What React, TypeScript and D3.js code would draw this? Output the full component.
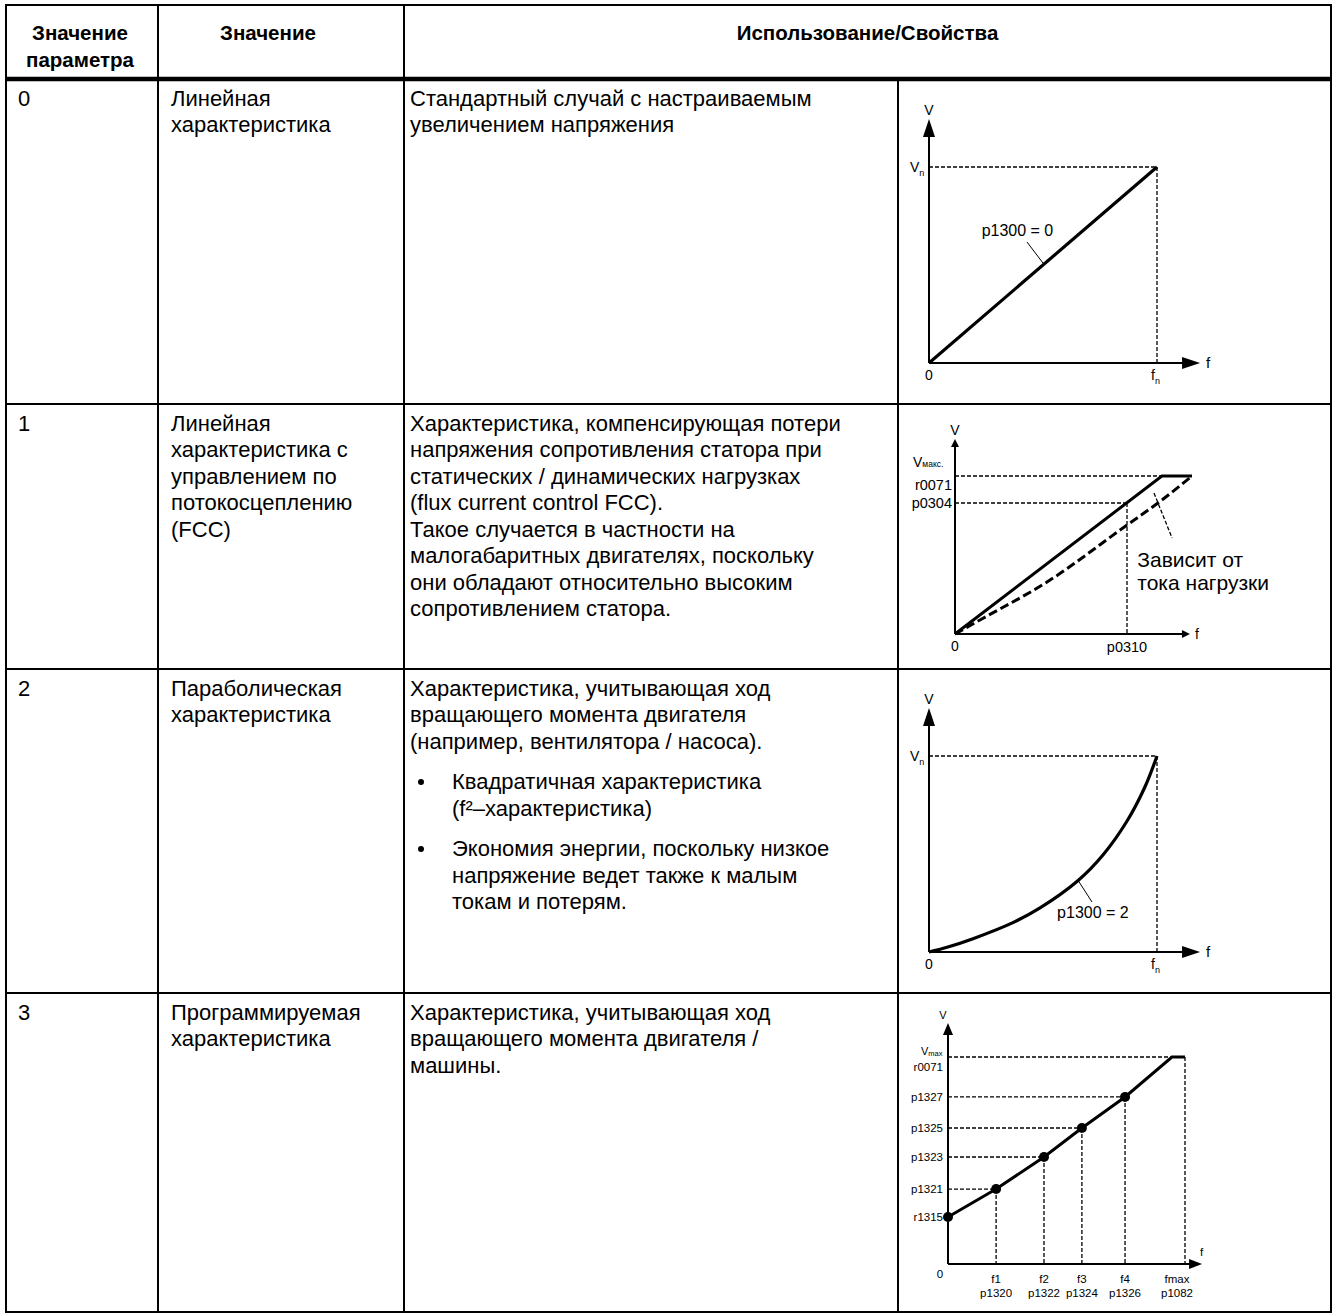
import React from 'react';
import * as d3 from 'd3';

const FONT = '"Liberation Sans", Arial, Helvetica, sans-serif';

// ---- table text ----
const headerParam = ['Значение', 'параметра'];
const headerMeaning = 'Значение';
const headerUsage = 'Использование/Свойства';

const paramValues = ['0', '1', '2', '3'];
const characteristicNames = [
  ['Линейная', 'характеристика'],
  ['Линейная', 'характеристика с', 'управлением по', 'потокосцеплению', '(FCC)'],
  ['Параболическая', 'характеристика'],
  ['Программируемая', 'характеристика'],
];
type Para = { bullet?: boolean; lines: string[] };
const descriptions: Para[][] = [
  [{ lines: ['Стандартный случай с настраиваемым', 'увеличением напряжения'] }],
  [
    {
      lines: [
        'Характеристика, компенсирующая потери',
        'напряжения сопротивления статора при',
        'статических / динамических нагрузках',
        '(flux current control FCC).',
        'Такое случается в частности на',
        'малогабаритных двигателях, поскольку',
        'они обладают относительно высоким',
        'сопротивлением статора.',
      ],
    },
  ],
  [
    { lines: ['Характеристика, учитывающая ход', 'вращающего момента двигателя', '(например, вентилятора / насоса).'] },
    { bullet: true, lines: ['Квадратичная характеристика', '(f²–характеристика)'] },
    { bullet: true, lines: ['Экономия энергии, поскольку низкое', 'напряжение ведет также к малым', 'токам и потерям.'] },
  ],
  [{ lines: ['Характеристика, учитывающая ход', 'вращающего момента двигателя /', 'машины.'] }],
];
const loadNote = ['Зависит от', 'тока нагрузки'];

// ---- chart data ----
// chart 0: linear (normalised f / V)
const linF = [0, 1];
const linV = [0, 1];
// chart 1: FCC (normalised to p0310 / p0304)
const fccF = [0, 1.203, 1.378];
const fccV = [0, 1.206, 1.206];
const fccLoadF = [0, 0.145, 0.535, 1, 1.18, 1.378];
const fccLoadV = [0, 0.107, 0.397, 0.832, 1.0, 1.206];
// chart 2: parabolic (normalised to fn / Vn)
const parF = [0, 0.079, 0.193, 0.368, 0.487, 0.654, 0.763, 0.868, 0.947, 1];
const parV = [0, 0.024, 0.068, 0.15, 0.225, 0.365, 0.495, 0.667, 0.842, 1];
// chart 3: programmable (percent of fmax / Vmax)
const progF = [0, 20.3, 40.5, 56.5, 74.7, 94.5, 100];
const progV = [22.7, 36.2, 51.7, 65.7, 80.7, 100, 100];
const progVLabels = ['r1315', 'p1321', 'p1323', 'p1325', 'p1327'];
const progFTop = ['f1', 'f2', 'f3', 'f4'];
const progFBottom = ['p1320', 'p1322', 'p1324', 'p1326'];

// ---- layout ----
const W = 1333;
const H = 1314;
const colEdges = [6, 158, 404, 898, 1331];
const rowEdges = [5, 79, 404, 669, 993, 1312];
const BODY_FS = 22;
const LH = 26.5;
const PARA_GAP = 14;

const zip = (a: number[], b: number[]) => a.map((v, i) => [v, b[i]] as [number, number]);

function arrowUp(x: number, tip: number, len: number, w: number) {
  return `M${x},${tip}L${x - w / 2},${tip + len}L${x + w / 2},${tip + len}Z`;
}
function arrowRight(tip: number, y: number, len: number, w: number) {
  return `M${tip},${y}L${tip - len},${y - w / 2}L${tip - len},${y + w / 2}Z`;
}

const dashStyle = { stroke: '#000', strokeWidth: 1.3, strokeDasharray: '4 2', fill: 'none' };

function BigAxes({ x, y, xMax, yMax }: any) {
  const ox = x(0);
  const xt = x(xMax);
  const yt = y(yMax);
  return (
    <g>
      <line x1={ox} y1={y(0)} x2={ox} y2={yt + 14} stroke="#000" strokeWidth={2} />
      <path d={arrowUp(ox, yt, 18, 12)} fill="#000" />
      <line x1={ox} y1={y(0)} x2={xt - 14} y2={y(0)} stroke="#000" strokeWidth={2} />
      <path d={arrowRight(xt, y(0), 18, 12)} fill="#000" />
    </g>
  );
}

function ChartLinear() {
  const oy = 363;
  const x = d3.scaleLinear().domain([0, 1]).range([929, 1157]);
  const y = d3.scaleLinear().domain([0, 1]).range([oy, oy - 196]);
  const line = d3.line<[number, number]>().x((d) => x(d[0])).y((d) => y(d[1]));
  return (
    <g fontFamily={FONT}>
      <line x1={x(0)} y1={y(1)} x2={x(1)} y2={y(1)} {...dashStyle} />
      <line x1={x(1)} y1={y(1)} x2={x(1)} y2={y(0)} {...dashStyle} />
      <BigAxes x={x} y={y} xMax={1.189} yMax={1.245} />
      <path d={line(zip(linF, linV)) || ''} fill="none" stroke="#000" strokeWidth={3.2} />
      <line x1={x(0.43)} y1={y(0.617)} x2={x(0.5)} y2={y(0.51)} stroke="#000" strokeWidth={1} />
      <text x={x(0.388)} y={y(0.648)} fontSize={16} textAnchor="middle">p1300 = 0</text>
      <text x={x(0)} y={y(1.265)} fontSize={14} textAnchor="middle">V</text>
      <text x={x(0) - 19} y={y(1) + 5} fontSize={14}>V<tspan fontSize={9} dy={4}>n</tspan></text>
      <text x={x(0)} y={y(0) + 17} fontSize={14} textAnchor="middle">0</text>
      <text x={x(1) - 6} y={y(0) + 17} fontSize={14}>f<tspan fontSize={9} dy={4}>n</tspan></text>
      <text x={x(1.189) + 6} y={y(0) + 5} fontSize={15}>f</text>
    </g>
  );
}

function ChartParabolic() {
  const oy = 952;
  const x = d3.scaleLinear().domain([0, 1]).range([929, 1157]);
  const y = d3.scaleLinear().domain([0, 1]).range([oy, oy - 196]);
  const line = d3.line<[number, number]>().x((d) => x(d[0])).y((d) => y(d[1])).curve(d3.curveCatmullRom.alpha(0.5));
  return (
    <g fontFamily={FONT}>
      <line x1={x(0)} y1={y(1)} x2={x(1)} y2={y(1)} {...dashStyle} />
      <line x1={x(1)} y1={y(1)} x2={x(1)} y2={y(0)} {...dashStyle} />
      <BigAxes x={x} y={y} xMax={1.189} yMax={1.245} />
      <path d={line(zip(parF, parV)) || ''} fill="none" stroke="#000" strokeWidth={3.2} />
      <line x1={x(0.654)} y1={y(0.365)} x2={x(0.715)} y2={y(0.255)} stroke="#000" strokeWidth={1} />
      <text x={x(0.719)} y={y(0.173)} fontSize={16} textAnchor="middle">p1300 = 2</text>
      <text x={x(0)} y={y(1.265)} fontSize={14} textAnchor="middle">V</text>
      <text x={x(0) - 19} y={y(1) + 5} fontSize={14}>V<tspan fontSize={9} dy={4}>n</tspan></text>
      <text x={x(0)} y={y(0) + 17} fontSize={14} textAnchor="middle">0</text>
      <text x={x(1) - 6} y={y(0) + 17} fontSize={14}>f<tspan fontSize={9} dy={4}>n</tspan></text>
      <text x={x(1.189) + 6} y={y(0) + 5} fontSize={15}>f</text>
    </g>
  );
}

function ChartFCC() {
  const x = d3.scaleLinear().domain([0, 1]).range([955, 1127]);
  const y = d3.scaleLinear().domain([0, 1]).range([634, 503]);
  const line = d3.line<[number, number]>().x((d) => x(d[0])).y((d) => y(d[1]));
  const curve = d3.line<[number, number]>().x((d) => x(d[0])).y((d) => y(d[1])).curve(d3.curveMonotoneX);
  const vmax = fccV[1];
  const xt = x(1.366);
  const yt = y(1.489);
  return (
    <g fontFamily={FONT}>
      <line x1={x(0)} y1={y(vmax)} x2={x(fccF[1])} y2={y(vmax)} {...dashStyle} />
      <line x1={x(0)} y1={y(1)} x2={x(1)} y2={y(1)} {...dashStyle} />
      <line x1={x(1)} y1={y(1)} x2={x(1)} y2={y(0)} {...dashStyle} />
      <line x1={x(0)} y1={y(0)} x2={x(0)} y2={yt + 6} stroke="#000" strokeWidth={2} />
      <path d={arrowUp(x(0), yt, 8, 8)} fill="#000" />
      <line x1={x(0)} y1={y(0)} x2={xt - 6} y2={y(0)} stroke="#000" strokeWidth={2} />
      <path d={arrowRight(xt, y(0), 8, 8)} fill="#000" />
      <path d={curve(zip(fccLoadF, fccLoadV)) || ''} fill="none" stroke="#000" strokeWidth={3} strokeDasharray="9 4" />
      <path d={line(zip(fccF, fccV)) || ''} fill="none" stroke="#000" strokeWidth={3} />
      <line x1={x(1.157)} y1={y(1.076)} x2={x(1.262)} y2={y(0.733)} stroke="#000" strokeWidth={1.3} strokeDasharray="4 2" />
      <text x={x(1.06)} y={y(0.733) + 29} fontSize={21}>{loadNote[0]}</text>
      <text x={x(1.06)} y={y(0.733) + 52} fontSize={21}>{loadNote[1]}</text>
      <text x={x(0)} y={yt - 4} fontSize={14} textAnchor="middle">V</text>
      <text x={x(0) - 42} y={y(vmax) - 9}>
        <tspan fontSize={14}>V</tspan>
        <tspan fontSize={8.5}>макс.</tspan>
      </text>
      <text x={x(0) - 3} y={y(vmax) + 14} fontSize={14.5} textAnchor="end">r0071</text>
      <text x={x(0) - 3} y={y(1) + 5} fontSize={14.5} textAnchor="end">p0304</text>
      <text x={x(0)} y={y(0) + 17} fontSize={14} textAnchor="middle">0</text>
      <text x={x(1)} y={y(0) + 18} fontSize={14.5} textAnchor="middle">p0310</text>
      <text x={xt + 5} y={y(0) + 5} fontSize={14}>f</text>
    </g>
  );
}

function ChartProgrammable() {
  const x = d3.scaleLinear().domain([0, 100]).range([948, 1185]);
  const y = d3.scaleLinear().domain([0, 100]).range([1264, 1057]);
  const line = d3.line<[number, number]>().x((d) => x(d[0])).y((d) => y(d[1]));
  const xt = x(107.2);
  const yt = y(116.4);
  const knots = progF.slice(0, 5).map((f, i) => [f, progV[i]] as [number, number]);
  return (
    <g fontFamily={FONT}>
      {knots.slice(1).map(([f, v], i) => (
        <g key={i}>
          <line x1={x(0)} y1={y(v)} x2={x(f)} y2={y(v)} {...dashStyle} />
          <line x1={x(f)} y1={y(v)} x2={x(f)} y2={y(0)} {...dashStyle} />
        </g>
      ))}
      <line x1={x(0)} y1={y(100)} x2={x(progF[5])} y2={y(100)} {...dashStyle} />
      <line x1={x(100)} y1={y(100)} x2={x(100)} y2={y(0)} {...dashStyle} />
      <line x1={x(0)} y1={y(0)} x2={x(0)} y2={yt + 10} stroke="#000" strokeWidth={2} />
      <path d={arrowUp(x(0), yt, 12, 10)} fill="#000" />
      <line x1={x(0)} y1={y(0)} x2={xt - 10} y2={y(0)} stroke="#000" strokeWidth={2} />
      <path d={arrowRight(xt, y(0), 13, 10)} fill="#000" />
      <path d={line(zip(progF, progV)) || ''} fill="none" stroke="#000" strokeWidth={3} />
      {knots.map(([f, v], i) => (
        <circle key={i} cx={x(f)} cy={y(v)} r={5} fill="#000" />
      ))}
      <text x={x(0) - 5} y={yt - 4} fontSize={11} textAnchor="middle">V</text>
      <text x={x(0) - 27} y={y(100) - 2}>
        <tspan fontSize={11}>V</tspan>
        <tspan fontSize={7.5} dy={1}>max</tspan>
      </text>
      <text x={x(0) - 5} y={y(100) + 14} fontSize={11.5} textAnchor="end">r0071</text>
      {knots.map(([f, v], i) => (
        <text key={i} x={x(0) - 5} y={y(v) + 4} fontSize={11.5} textAnchor="end">{progVLabels[i]}</text>
      ))}
      <text x={x(0) - 8} y={y(0) + 14} fontSize={11.5} textAnchor="middle">0</text>
      {knots.slice(1).map(([f], i) => (
        <g key={i}>
          <text x={x(f)} y={y(0) + 19} fontSize={11.5} textAnchor="middle">{progFTop[i]}</text>
          <text x={x(f)} y={y(0) + 33} fontSize={11.5} textAnchor="middle">{progFBottom[i]}</text>
        </g>
      ))}
      <text x={x(100) - 8} y={y(0) + 19} fontSize={11.5} textAnchor="middle">fmax</text>
      <text x={x(100) - 8} y={y(0) + 33} fontSize={11.5} textAnchor="middle">p1082</text>
      <text x={xt - 2} y={y(0) - 8} fontSize={11.5}>f</text>
    </g>
  );
}

function CellLines({ x, top, lines }: { x: number; top: number; lines: string[] }) {
  return (
    <g>
      {lines.map((l, i) => (
        <text key={i} x={x} y={top + LH + i * LH}>{l}</text>
      ))}
    </g>
  );
}

function Description({ top, paras }: { top: number; paras: Para[] }) {
  let y = top + LH;
  const out: React.ReactNode[] = [];
  paras.forEach((p, pi) => {
    if (pi > 0 && p.bullet) y += PARA_GAP;
    p.lines.forEach((l, li) => {
      if (p.bullet && li === 0) {
        out.push(<circle key={`b${pi}`} cx={colEdges[2] + 17} cy={y - 7} r={3} fill="#000" />);
      }
      out.push(
        <text key={`${pi}-${li}`} x={p.bullet ? colEdges[2] + 48 : colEdges[2] + 6} y={y}>{l}</text>
      );
      y += LH;
    });
  });
  return <g>{out}</g>;
}

export default function App() {
  const bodyRows = [0, 1, 2, 3];
  return (
    <svg
      width={W}
      height={H}
      viewBox={`0 0 ${W} ${H}`}
      style={{ position: 'absolute', left: 0, top: 0, display: 'block', background: '#fff' }}
    >
      <rect x={0} y={0} width={W} height={H} fill="#fff" />
      {/* header */}
      <g fontFamily={FONT} fontWeight="bold" fontSize={20.5} textAnchor="middle">
        <text x={80} y={40}>{headerParam[0]}</text>
        <text x={80} y={67}>{headerParam[1]}</text>
        <text x={268} y={40}>{headerMeaning}</text>
        <text x={(colEdges[2] + colEdges[4]) / 2} y={40}>{headerUsage}</text>
      </g>
      {/* body text */}
      <g fontFamily={FONT} fontSize={BODY_FS}>
        {bodyRows.map((r) => (
          <g key={r}>
            <text x={colEdges[0] + 12} y={rowEdges[r + 1] + LH}>{paramValues[r]}</text>
            <CellLines x={colEdges[1] + 13} top={rowEdges[r + 1]} lines={characteristicNames[r]} />
            <Description top={rowEdges[r + 1]} paras={descriptions[r]} />
          </g>
        ))}
      </g>
      {/* charts */}
      <ChartLinear />
      <ChartFCC />
      <ChartParabolic />
      <ChartProgrammable />
      {/* grid lines */}
      <g stroke="#000" strokeWidth={2} fill="none">
        <rect x={colEdges[0]} y={rowEdges[0]} width={colEdges[4] - colEdges[0]} height={rowEdges[5] - rowEdges[0]} />
        <line x1={colEdges[1]} y1={rowEdges[0]} x2={colEdges[1]} y2={rowEdges[5]} />
        <line x1={colEdges[2]} y1={rowEdges[0]} x2={colEdges[2]} y2={rowEdges[5]} />
        <line x1={colEdges[3]} y1={rowEdges[1]} x2={colEdges[3]} y2={rowEdges[5]} />
        {[2, 3, 4].map((i) => (
          <line key={i} x1={colEdges[0]} y1={rowEdges[i]} x2={colEdges[4]} y2={rowEdges[i]} />
        ))}
        <line x1={colEdges[0]} y1={rowEdges[1]} x2={colEdges[4]} y2={rowEdges[1]} strokeWidth={4.5} />
      </g>
    </svg>
  );
}
